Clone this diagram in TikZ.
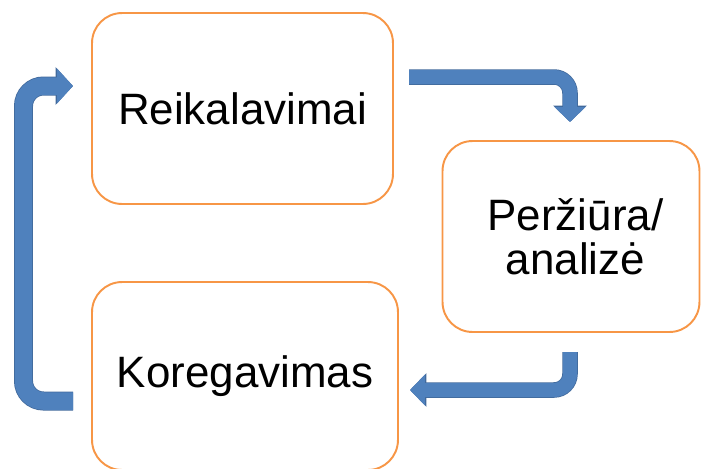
\documentclass[tikz,border=0pt]{standalone}
\usepackage{fontspec}
\setmainfont{Liberation Sans}
\usepackage{xcolor}
\usetikzlibrary{arrows.meta,positioning}
\definecolor{boxorange}{HTML}{F79646}
\definecolor{arrowblue}{HTML}{4F81BD}
\definecolor{arrowedge}{HTML}{41699B}

\begin{document}
\begin{tikzpicture}[
  x=0.02cm,
  y=-0.02cm,
  stage/.style={draw=boxorange, line width=1.1pt, fill=white, rounded corners=0.6cm, align=center, font=\fontsize{25}{25}\selectfont, inner sep=0pt},
  cycle/.style={draw=arrowblue, line width=0.28cm, rounded corners=0.32cm, -{Triangle[length=0.3cm, width=0.6cm]},
    preaction={draw=arrowedge, line width=0.31cm, -{Triangle[length=0.33cm, width=0.66cm]}}},
  back/.style={draw=arrowblue, line width=0.35cm, rounded corners=0.4cm, -{Triangle[length=0.32cm, width=0.68cm]},
    preaction={draw=arrowedge, line width=0.38cm, -{Triangle[length=0.35cm, width=0.74cm]}}}
]
\useasboundingbox (0,0) rectangle (701,468);

\node[stage, minimum width=6.02cm, minimum height=3.82cm] (req) at (242.5,108.5) {Reikalavimai};
\node[stage, minimum width=5.14cm, minimum height=3.82cm, text width=5.14cm] (rev) at (571,236.5) {\hspace*{0.18cm}Peržiūra/\\\hspace*{0.18cm}analizė};
\node[stage, minimum width=6.12cm, minimum height=3.76cm] (fix) at (245,376) {Koregavimas};

\coordinate (reqout) at (409,77);
\coordinate (revin) at (570,122);
\coordinate (revout) at (570,352);
\coordinate (fixin) at (410,390);
\coordinate (fixout) at (73,401);
\coordinate (reqin) at (73,86);

\draw[cycle] (reqout) -| (revin);
\draw[cycle] (revout) |- (fixin);
\draw[back] (fixout) -- (23.5,401) -- (23.5,86) -- (reqin);
\end{tikzpicture}
\end{document}
